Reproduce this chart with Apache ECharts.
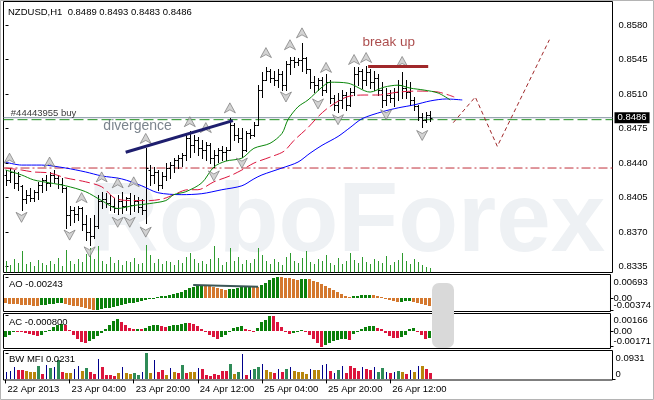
<!DOCTYPE html>
<html><head><meta charset="utf-8">
<script src="https://cdn.jsdelivr.net/npm/echarts@6/dist/echarts.min.js"></script>
<style>html,body{margin:0;padding:0;background:#fff}#c{width:654px;height:400px}</style>
</head><body><div id="c"></div>
<script>
const FONT = 'Liberation Sans, Arial, sans-serif';
const symbolTitle = 'NZDUSD,H1';
const lastQuote = ['0.8489', '0.8493', '0.8483', '0.8486'];
const timeTickIndex = [0, 16, 32, 48, 64, 80, 96];
const timeTickLabels = ['22 Apr 2013', '23 Apr 04:00', '23 Apr 20:00', '24 Apr 12:00', '25 Apr 04:00', '25 Apr 20:00', '26 Apr 12:00'];
const priceTicks = [0.8335, 0.8370, 0.8405, 0.8440, 0.8475, 0.8510, 0.8545, 0.8580];

const opens = [0.8428,0.8423,0.8431,0.8420,0.8417,0.8404,0.8408,0.8405,0.8411,0.8418,
0.8423,0.8420,0.8428,0.8425,0.8419,0.8415,0.8387,0.8392,0.8388,0.8394,
0.8378,0.8370,0.8366,0.8376,0.8402,0.8404,0.8400,0.8397,0.8394,0.8402,
0.8397,0.8405,0.8398,0.8402,0.8396,0.8392,0.8433,0.8428,0.8431,0.8418,
0.8427,0.8435,0.8438,0.8443,0.8445,0.8448,0.8465,0.8458,0.8463,0.8455,
0.8453,0.8458,0.8445,0.8448,0.8453,0.8451,0.8453,0.8479,0.8468,0.8465,
0.8453,0.8470,0.8468,0.8479,0.8514,0.8524,0.8533,0.8526,0.8524,0.8530,
0.8519,0.8540,0.8545,0.8542,0.8545,0.8547,0.8535,0.8522,0.8519,0.8524,
0.8514,0.8522,0.8506,0.8499,0.8504,0.8509,0.8499,0.8512,0.8530,0.8533,
0.8524,0.8532,0.8522,0.8526,0.8514,0.8504,0.8509,0.8506,0.8512,0.8519,
0.8516,0.8512,0.8504,0.8498,0.8487,0.8484,0.8489];
const highs = [0.8433,0.8435,0.8433,0.8431,0.8418,0.8413,0.8415,0.8413,0.8421,0.8425,
0.8428,0.8431,0.8433,0.8428,0.8425,0.8416,0.8397,0.8396,0.8397,0.8396,
0.8387,0.8384,0.8387,0.8408,0.8411,0.8410,0.8408,0.8405,0.8408,0.8411,
0.8406,0.8410,0.8408,0.8406,0.8404,0.8455,0.8438,0.8436,0.8433,0.8431,
0.8440,0.8441,0.8445,0.8448,0.8450,0.8470,0.8473,0.8468,0.8466,0.8463,
0.8461,0.8460,0.8453,0.8455,0.8457,0.8456,0.8486,0.8481,0.8476,0.8476,
0.8473,0.8475,0.8482,0.8519,0.8532,0.8537,0.8535,0.8533,0.8535,0.8533,
0.8543,0.8548,0.8548,0.8547,0.8562,0.8548,0.8535,0.8528,0.8526,0.8527,
0.8530,0.8524,0.8509,0.8511,0.8514,0.8512,0.8516,0.8537,0.8537,0.8535,
0.8538,0.8535,0.8533,0.8530,0.8522,0.8516,0.8514,0.8516,0.8524,0.8532,
0.8524,0.8522,0.8507,0.8499,0.8491,0.8492,0.8493];
const lows = [0.8418,0.8421,0.8415,0.8413,0.8392,0.8400,0.8402,0.8402,0.8404,0.8411,
0.8413,0.8417,0.8421,0.8415,0.8411,0.8374,0.8377,0.8380,0.8382,0.8372,
0.8362,0.8357,0.8364,0.8374,0.8394,0.8396,0.8392,0.8390,0.8388,0.8389,
0.8392,0.8388,0.8391,0.8390,0.8388,0.8379,0.8418,0.8420,0.8413,0.8415,
0.8423,0.8425,0.8431,0.8435,0.8437,0.8443,0.8446,0.8451,0.8448,0.8445,
0.8443,0.8440,0.8436,0.8441,0.8443,0.8443,0.8453,0.8463,0.8461,0.8446,
0.8452,0.8465,0.8467,0.8479,0.8507,0.8524,0.8522,0.8519,0.8517,0.8514,
0.8514,0.8530,0.8537,0.8539,0.8533,0.8531,0.8516,0.8512,0.8514,0.8509,
0.8512,0.8501,0.8494,0.8492,0.8496,0.8494,0.8498,0.8509,0.8519,0.8516,
0.8519,0.8516,0.8514,0.8509,0.8497,0.8499,0.8502,0.8498,0.8504,0.8506,
0.8506,0.8499,0.8494,0.8484,0.8477,0.8482,0.8483];
const closes = [0.8423,0.8431,0.8420,0.8427,0.8404,0.8408,0.8405,0.8411,0.8418,0.8423,
0.8420,0.8428,0.8425,0.8419,0.8415,0.8387,0.8392,0.8388,0.8394,0.8378,
0.8370,0.8366,0.8376,0.8402,0.8404,0.8400,0.8397,0.8394,0.8402,0.8397,
0.8405,0.8398,0.8402,0.8396,0.8392,0.8435,0.8428,0.8431,0.8418,0.8427,
0.8435,0.8438,0.8443,0.8445,0.8448,0.8465,0.8458,0.8463,0.8455,0.8453,
0.8458,0.8445,0.8448,0.8453,0.8451,0.8453,0.8479,0.8468,0.8465,0.8453,
0.8470,0.8468,0.8479,0.8514,0.8524,0.8533,0.8526,0.8524,0.8530,0.8519,
0.8540,0.8545,0.8542,0.8545,0.8547,0.8535,0.8522,0.8519,0.8524,0.8514,
0.8522,0.8506,0.8499,0.8504,0.8509,0.8499,0.8512,0.8530,0.8533,0.8524,
0.8532,0.8522,0.8526,0.8514,0.8504,0.8509,0.8506,0.8512,0.8519,0.8516,
0.8512,0.8504,0.8498,0.8487,0.8484,0.8489,0.8486];
const volumes = [1200,800,1400,1000,2200,900,1100,700,1300,1000,
800,1200,900,1500,700,2300,1200,900,1400,1100,
1900,2500,1400,2700,1200,900,1600,1000,1300,800,
1200,1100,1500,900,1000,2800,1800,1000,1400,900,
1200,1100,800,1300,1000,1600,2000,1400,1000,1200,
900,1400,2700,1500,800,1100,2500,1200,1600,900,
1300,1000,1400,2500,1800,1200,900,1400,1100,800,
1600,2000,1200,1000,1500,2200,1100,900,1400,1200,
1800,1000,800,1500,900,1200,2000,1300,1000,1600,
1100,900,1400,1200,1000,1700,800,1100,1300,2000,
1200,900,1400,1100,800,600,500];

// Alligator lines: [bar index, price]
const jawLine = [[0,0.8441],[4,0.8438],[9,0.8438],[15,0.8435],[20,0.8431],[24,0.8427],[29,0.8424],[34,0.8417],[38,0.8410],[44,0.8408],[49,0.8409],[54,0.8413],[59,0.8417],[62,0.8424],[64,0.8428],[69,0.8435],[73,0.8441],[76,0.8450],[79,0.8458],[83,0.8467],[86,0.8476],[89,0.8485],[94,0.8492],[98,0.8496],[102,0.8499],[106,0.8503],[110,0.8505],[114,0.8504]];
const teethLine = [[0,0.8435],[4,0.8433],[7,0.8431],[11,0.8430],[15,0.8425],[20,0.8421],[24,0.8416],[27.5,0.8404],[32,0.8402],[36,0.8402],[39.5,0.8404],[42,0.8408],[45.5,0.8413],[48,0.8413],[52,0.8421],[56,0.8427],[59,0.8433],[62,0.8440],[66,0.8446],[69.5,0.8452],[72,0.8463],[75.5,0.8476],[78,0.8487],[80.5,0.8496],[84,0.8505],[86,0.8508],[89.5,0.8509],[93,0.8509],[98,0.8512],[103,0.8513],[108,0.8512],[112,0.8507]];
const lipsLine = [[0,0.8433],[4,0.8428],[7,0.8423],[11,0.8420],[15,0.8417],[20,0.8411],[24,0.8402],[28,0.8394],[32,0.8397],[36,0.8399],[40,0.8402],[42,0.8408],[45,0.8411],[49,0.8420],[52,0.8436],[55,0.8442],[59,0.8445],[62,0.8455],[66,0.8460],[69,0.8470],[70.5,0.8484],[73,0.8497],[75.5,0.8504],[79,0.8517],[81,0.8522],[85.5,0.8521],[91,0.8512],[94.5,0.8517],[98,0.8519],[101,0.8516],[104.5,0.8514],[108,0.8511],[111,0.8504]];

const fractalUp = [[1,0.8445],[11,0.8441],[19,0.8405],[24,0.8426],[28,0.8420],[32,0.8421],[35,0.8465],[46,0.8482],[50,0.8476],[56,0.8496],[65,0.8552],[71,0.8560],[74,0.8572],[80,0.8537],[87,0.8545],[90,0.8547],[99,0.8543]];
const fractalDown = [[4,0.8385],[16,0.8367],[21,0.8350],[28,0.8380],[31,0.8380],[35,0.8370],[52,0.8427],[59,0.8440],[70,0.8507],[78,0.8500],[83,0.8484],[95,0.8489],[104,0.8468]];

const orderLevel = 0.8484;
const stopLevel = 0.8435;
const bidLevel = 0.8486;
const divergenceLine = [[30,0.8451],[56.75,0.8483]];
const breakUpLine = [[90.5,0.8538],[105.5,0.8538]];
const projectionLine = [[111.75,0.8481],[117.25,0.8507],[122.75,0.8457],[135.75,0.8565]];
const noteTexts = ['divergence', 'break up', '#44443955 buy'];
const notePoints = [[24.3,0.8477],[89,0.8562],[1.2,0.8490]];

const aoValues = [-0.00162,-0.00174,-0.00184,-0.00194,-0.00203,-0.00213,-0.00223,-0.00229,-0.00236,-0.00223,
-0.00207,-0.00191,-0.00174,-0.00162,-0.00155,-0.00171,-0.00200,-0.00229,-0.00258,-0.00287,
-0.00317,-0.00342,-0.00374,-0.00362,-0.00342,-0.00320,-0.00294,-0.00268,-0.00242,-0.00216,
-0.00191,-0.00162,-0.00132,-0.00103,-0.00078,-0.00045,-0.00016,0.00013,0.00039,0.00065,
0.00090,0.00116,0.00142,0.00171,0.00210,0.00258,0.00323,0.00371,0.00401,0.00417,
0.00407,0.00391,0.00368,0.00342,0.00313,0.00284,0.00297,0.00320,0.00342,0.00362,
0.00381,0.00397,0.00381,0.00362,0.00420,0.00501,0.00581,0.00646,0.00693,0.00678,
0.00662,0.00646,0.00627,0.00607,0.00627,0.00643,0.00614,0.00568,0.00517,0.00459,
0.00397,0.00333,0.00265,0.00200,0.00139,0.00087,0.00048,0.00065,0.00081,0.00097,
0.00107,0.00113,0.00097,0.00068,0.00036,0.00006,-0.00039,-0.00084,-0.00126,-0.00113,
-0.00097,-0.00081,-0.00110,-0.00142,-0.00174,-0.00210,-0.00243];
const acValues = [-0.00065,-0.00043,-0.00005,-0.00009,-0.00016,-0.00027,-0.00038,-0.00049,-0.00057,-0.00041,
-0.00016,0.00011,0.00038,0.00060,0.00076,0.00065,0.00011,-0.00043,-0.00087,-0.00120,
-0.00130,-0.00114,-0.00087,-0.00054,-0.00022,0.00022,0.00065,0.00109,0.00125,0.00098,
0.00065,0.00033,0.00016,0.00022,0.00016,0.00033,0.00049,0.00060,0.00065,0.00054,
0.00043,0.00052,0.00060,0.00067,0.00074,0.00085,0.00082,0.00076,0.00049,0.00016,
-0.00011,-0.00043,-0.00071,-0.00087,-0.00071,-0.00043,-0.00016,0.00033,0.00043,0.00049,
0.00022,0.00005,-0.00009,0.00027,0.00098,0.00120,0.00166,0.00158,0.00098,0.00038,
-0.00016,-0.00030,-0.00022,-0.00011,0.00005,0.00002,-0.00043,-0.00087,-0.00136,-0.00171,
-0.00152,-0.00130,-0.00114,-0.00103,-0.00092,-0.00087,-0.00098,-0.00033,-0.00005,0.00022,
0.00038,0.00049,0.00054,0.00033,0.00016,-0.00022,-0.00054,-0.00076,-0.00082,-0.00071,
-0.00043,0.00016,0.00027,-0.00005,-0.00043,-0.00092,-0.00080];
const mfiValues = [0.0251,0.0286,0.0430,0.0322,0.0322,0.0286,0.0251,0.0276,0.0465,0.0179,
0.0501,0.0394,0.0455,0.0680,0.0276,0.0215,0.0215,0.0358,0.0465,0.0286,
0.0394,0.0276,0.0197,0.0716,0.0455,0.0161,0.0161,0.0125,0.0215,0.0430,
0.0215,0.0197,0.0215,0.0161,0.0251,0.0931,0.0215,0.0691,0.0276,0.0333,
0.0161,0.0394,0.0276,0.0215,0.0512,0.0215,0.0276,0.0276,0.0394,0.0358,
0.0161,0.0125,0.0179,0.0143,0.0297,0.0297,0.0537,0.0204,0.0261,0.0895,
0.0143,0.0322,0.0383,0.0430,0.0562,0.0347,0.0261,0.0226,0.0383,0.0261,
0.0383,0.0440,0.0297,0.0261,0.0261,0.0179,0.0383,0.0347,0.0347,0.0526,
0.0537,0.0297,0.0215,0.0322,0.0465,0.0226,0.0465,0.0419,0.0297,0.0440,
0.0358,0.0322,0.0440,0.0261,0.0419,0.0261,0.0226,0.0261,0.0297,0.0261,
0.0204,0.0322,0.0251,0.0465,0.0465,0.0383,0.0231];
// n = blue (fake), r = squat, b = fade, g = green
const mfiZones = ['n','n','n','r','r','b','b','b','g','r',
'n','g','n','g','r','b','b','n','n','b',
'g','r','r','n','r','r','r','r','b','n',
'b','b','g','g','n','g','b','n','r','r',
'b','n','b','r','g','r','b','b','n','r',
'r','r','r','r','r','r','g','b','g','n',
'r','n','g','g','n','b','b','r','n','r',
'g','n','b','b','b','b','n','b','b','n',
'n','r','n','g','n','r','r','r','r','n',
'r','r','n','g','g','n','r','n','g','b',
'r','n','b','n','b','r','r'];
const aoDivergence = [[47,0.00433],[63.25,0.00378]];
const aoTicks = [0.00693, 0, -0.00374], aoTickText = ['0.00693', '0.00', '-0.00374'];
const acTicks = [0.00166, 0, -0.00171], acTickText = ['0.00166', '0.00', '-0.00171'];
const mfiTicks = [0.0931, 0], mfiTickText = ['0.0931', '0'];

const GREEN = '#0b800b', ORANGE = '#d4782e', CRIMSON = '#dc143c';
const zoneColor = {n:'#00008b', r:'#dc143c', b:'#b8860b', g:'#2e8b57'};
const aoColors = aoValues.map((v, i) => (i > 0 && v > aoValues[i-1]) ? GREEN : ORANGE);
const acColors = acValues.map((v, i) => (i === 0 || v > acValues[i-1]) ? GREEN : CRIMSON);
const mfiColors = mfiZones.map(z => zoneColor[z]);
const mfiWidths = mfiZones.map(z => z === 'n' ? 1 : 3);

const ohlcData = opens.map((o, i) => [i, o, highs[i], lows[i], closes[i]]);
const volData = volumes.map((v, i) => [i, v]);
const aoData = aoValues.map((v, i) => [i, v]);
const acData = acValues.map((v, i) => [i, v]);
const mfiData = mfiValues.map((v, i) => [i, v]);

function renderOHLC(params, api) {
  const i = api.value(0);
  const pO = api.coord([i, api.value(1)]);
  const pH = api.coord([i, api.value(2)]);
  const pL = api.coord([i, api.value(3)]);
  const pC = api.coord([i, api.value(4)]);
  const x = Math.round(pH[0]) + 0.5;
  const yo = Math.round(pO[1]) + 0.5, yc = Math.round(pC[1]) + 0.5;
  const st = {stroke:'#000', lineWidth:1};
  return {type:'group', children:[
    {type:'line', shape:{x1:x, y1:Math.round(pH[1]), x2:x, y2:Math.round(pL[1]) + 1}, style:st},
    {type:'line', shape:{x1:x - 2, y1:yo, x2:x, y2:yo}, style:st},
    {type:'line', shape:{x1:x, y1:yc, x2:x + 2, y2:yc}, style:st}
  ]};
}
function histRenderer(colors, widths) {
  return function(params, api) {
    const i = api.value(0), v = api.value(1);
    const a = api.coord([i, 0]), b = api.coord([i, v]);
    const w = widths[params.dataIndex];
    const x = Math.round(a[0]) - (w > 1 ? 1 : 0);
    const y0 = Math.round(a[1]), y1 = Math.round(b[1]);
    return {type:'rect', shape:{x:x, y:Math.min(y0, y1), width:w, height:Math.max(1, Math.abs(y1 - y0))},
      style:{fill:colors[params.dataIndex]}};
  };
}
function renderVolume(params, api) {
  const i = api.value(0), v = api.value(1);
  const a = api.coord([i, 0]), b = api.coord([i, v]);
  const x = Math.round(a[0]) + 0.5;
  return {type:'line', shape:{x1:x, y1:a[1], x2:x, y2:Math.round(b[1])}, style:{stroke:'#2e9a2e', lineWidth:1}};
}
const w3 = aoValues.map(() => 3);

const TXT = {fontSize:9.5, color:'#000', fontFamily:FONT, fontWeight:'normal'};
const X_MIN = -0.5, X_MAX = 151.5;
function nearestText(vals, texts) {
  return v => { let k = 0; vals.forEach((t, j) => { if (Math.abs(t - v) < Math.abs(vals[k] - v)) k = j; }); return texts[k]; };
}
function indAxis(grid, min, max, vals, texts, vAlign) {
  return {type:'value', gridIndex:grid, position:'right', min:min, max:max,
    splitLine:{show:false}, axisLine:{show:false},
    axisTick:{show:true, customValues:vals, length:3, lineStyle:{color:'#000'}},
    axisLabel:Object.assign({customValues:vals, formatter:nearestText(vals, texts), verticalAlign:vAlign, margin:3}, TXT)};
}
function hiddenX(grid) { return {type:'value', gridIndex:grid, min:X_MIN, max:X_MAX, show:false}; }

const GL = 3.5, GW = 609;
const chart = echarts.init(document.getElementById('c'), null, {renderer:'canvas'});
chart.setOption({
  animation:false,
  backgroundColor:'#fff',
  title:[
    {text:symbolTitle + '  ' + lastQuote.join(' '), left:8, top:7.5, padding:0, textStyle:TXT},
    {text:'AO ' + aoValues[aoValues.length-1].toFixed(5), left:9, top:279.5, padding:0, textStyle:TXT},
    {text:'AC ' + acValues[acValues.length-1].toFixed(6), left:9, top:317.5, padding:0, textStyle:TXT},
    {text:'BW MFI ' + mfiValues[mfiValues.length-1].toFixed(4), left:9, top:354.5, padding:0, textStyle:TXT}
  ],
  graphic:[
    {type:'text', x:88, y:224, z:0, silent:true,
      style:{text:'RoboForex', fill:'#eef1f4', font:'bold 98px "Liberation Sans"', verticalAlign:'middle'}},
    {type:'rect', z:50, silent:true, shape:{x:432, y:283, width:22, height:65, r:7}, style:{fill:'#d9d9d9'}},
    {type:'rect', z:100, silent:true, shape:{x:0.5, y:0.5, width:653, height:399}, style:{fill:'none', stroke:'#b4b4b4'}}
  ],
  grid:[
    {left:GL, top:1.5, width:GW, height:271, show:true, borderColor:'#000', borderWidth:1, backgroundColor:'transparent'},
    {left:GL, top:274.5, width:GW, height:37, show:true, borderColor:'#000', borderWidth:1, backgroundColor:'transparent'},
    {left:GL, top:313.5, width:GW, height:35, show:true, borderColor:'#000', borderWidth:1, backgroundColor:'transparent'},
    {left:GL, top:350.5, width:GW, height:29.5, show:true, borderColor:'#000', borderWidth:1, backgroundColor:'transparent'}
  ],
  xAxis:[
    hiddenX(0), hiddenX(1), hiddenX(2),
    {type:'value', gridIndex:3, min:X_MIN, max:X_MAX, splitLine:{show:false}, axisLine:{show:false},
      axisTick:{show:true, customValues:timeTickIndex, length:4, lineStyle:{color:'#000'}},
      axisLabel:Object.assign({customValues:timeTickIndex, formatter:nearestText(timeTickIndex, timeTickLabels),
        align:'left', padding:[0,0,0,2], margin:4}, TXT)}
  ],
  yAxis:[
    {type:'value', gridIndex:0, position:'right', min:0.83291, max:0.86038,
      splitLine:{show:false}, axisLine:{show:false},
      axisTick:{show:true, customValues:priceTicks, length:3, lineStyle:{color:'#000'}},
      axisLabel:Object.assign({customValues:priceTicks, formatter:v => v.toFixed(4), margin:6}, TXT)},
    {type:'value', gridIndex:0, min:0, max:27100, show:false},
    indAxis(1, -0.00422, 0.00774, [aoTicks[0]], [aoTickText[0]], 'top'),
    indAxis(1, -0.00422, 0.00774, [aoTicks[1]], [aoTickText[1]], 'middle'),
    indAxis(1, -0.00422, 0.00774, [aoTicks[2]], [aoTickText[2]], 'bottom'),
    indAxis(2, -0.00191, 0.00190, [acTicks[0]], [acTickText[0]], 'top'),
    indAxis(2, -0.00191, 0.00190, [acTicks[1]], [acTickText[1]], 'middle'),
    indAxis(2, -0.00191, 0.00190, [acTicks[2]], [acTickText[2]], 'bottom'),
    indAxis(3, -0.0021, 0.1031, [mfiTicks[0]], [mfiTickText[0]], 'top'),
    indAxis(3, -0.0021, 0.1031, [mfiTicks[1]], [mfiTickText[1]], 'bottom')
  ],
  series:[
    {type:'custom', name:'volume', xAxisIndex:0, yAxisIndex:1, z:1, silent:true, clip:true,
      renderItem:renderVolume, encode:{x:0, y:1}, data:volData},
    {type:'line', name:'stop', xAxisIndex:0, yAxisIndex:0, z:2, silent:true, symbol:'none',
      lineStyle:{color:'#c0303a', width:1, type:[9,3,2,3]}, data:[[X_MIN, stopLevel],[X_MAX, stopLevel]]},
    {type:'line', name:'order', xAxisIndex:0, yAxisIndex:0, z:2, silent:true, symbol:'none',
      lineStyle:{color:'#1f8f1f', width:1, type:[10,4]}, data:[[X_MIN, orderLevel],[X_MAX, orderLevel]]},
    {type:'line', name:'bid', xAxisIndex:0, yAxisIndex:0, z:2, silent:true, symbol:'none',
      lineStyle:{color:'#8090a0', width:1}, data:[[X_MIN, bidLevel],[X_MAX, bidLevel]],
      endLabel:{show:true, formatter:bidLevel.toFixed(4), backgroundColor:'#000', color:'#fff', padding:[1,3,0,3],
        distance:2, fontSize:9.5, fontFamily:FONT}},
    {type:'custom', name:'price', xAxisIndex:0, yAxisIndex:0, z:3, silent:true, clip:true,
      renderItem:renderOHLC, encode:{x:0, y:[1,2,3,4]}, data:ohlcData},
    {type:'line', name:'jaw', z:4, silent:true, symbol:'none', smooth:0.3, lineStyle:{color:'#0000ff', width:1}, data:jawLine},
    {type:'line', name:'teeth', z:4, silent:true, symbol:'none', smooth:0.3, lineStyle:{color:'#dc143c', width:1, type:[11,4]}, data:teethLine},
    {type:'line', name:'lips', z:4, silent:true, symbol:'none', smooth:0.3, lineStyle:{color:'#0a870a', width:1}, data:lipsLine},
    {type:'scatter', name:'fractal up', z:5, silent:true, symbol:'path://M5,0 L10,10 L5,7 L0,10 Z', symbolSize:[11,10],
      itemStyle:{color:'#c8c8c8', borderColor:'#6e6e6e', borderWidth:0.8}, data:fractalUp},
    {type:'scatter', name:'fractal down', z:5, silent:true, symbol:'path://M0,0 L5,3 L10,0 L5,10 Z', symbolSize:[11,10],
      itemStyle:{color:'#c8c8c8', borderColor:'#6e6e6e', borderWidth:0.8}, data:fractalDown},
    {type:'line', name:'divergence', z:6, silent:true, symbol:'none', lineStyle:{color:'#1e1e6e', width:3}, data:divergenceLine},
    {type:'line', name:'break up', z:6, silent:true, symbol:'none', lineStyle:{color:'#a0282a', width:3}, data:breakUpLine},
    {type:'line', name:'projection', z:6, silent:true, symbol:'none', lineStyle:{color:'#a0282a', width:1, type:[4,3]}, data:projectionLine},
    {type:'scatter', name:'notes', z:7, silent:true, symbolSize:1, itemStyle:{color:'rgba(0,0,0,0)'},
      label:{show:true, position:'right', distance:0, fontFamily:FONT},
      data:[
        {value:notePoints[0], label:{formatter:noteTexts[0], fontSize:14, color:'#5a6570'}},
        {value:notePoints[1], label:{formatter:noteTexts[1], fontSize:13.5, color:'#951b1b'}},
        {value:notePoints[2], label:{formatter:noteTexts[2], fontSize:9.5, color:'#000'}}
      ]},
    {type:'custom', name:'AO', xAxisIndex:1, yAxisIndex:2, silent:true, clip:true,
      renderItem:histRenderer(aoColors, w3), encode:{x:0, y:1}, data:aoData},
    {type:'line', name:'AO divergence', xAxisIndex:1, yAxisIndex:2, z:5, silent:true, symbol:'none',
      lineStyle:{color:'#3b5757', width:2}, data:aoDivergence},
    {type:'custom', name:'AC', xAxisIndex:2, yAxisIndex:5, silent:true, clip:true,
      renderItem:histRenderer(acColors, w3), encode:{x:0, y:1}, data:acData},
    {type:'custom', name:'BW MFI', xAxisIndex:3, yAxisIndex:8, silent:true, clip:true,
      renderItem:histRenderer(mfiColors, mfiWidths), encode:{x:0, y:1}, data:mfiData}
  ]
});
</script>
</body></html>
